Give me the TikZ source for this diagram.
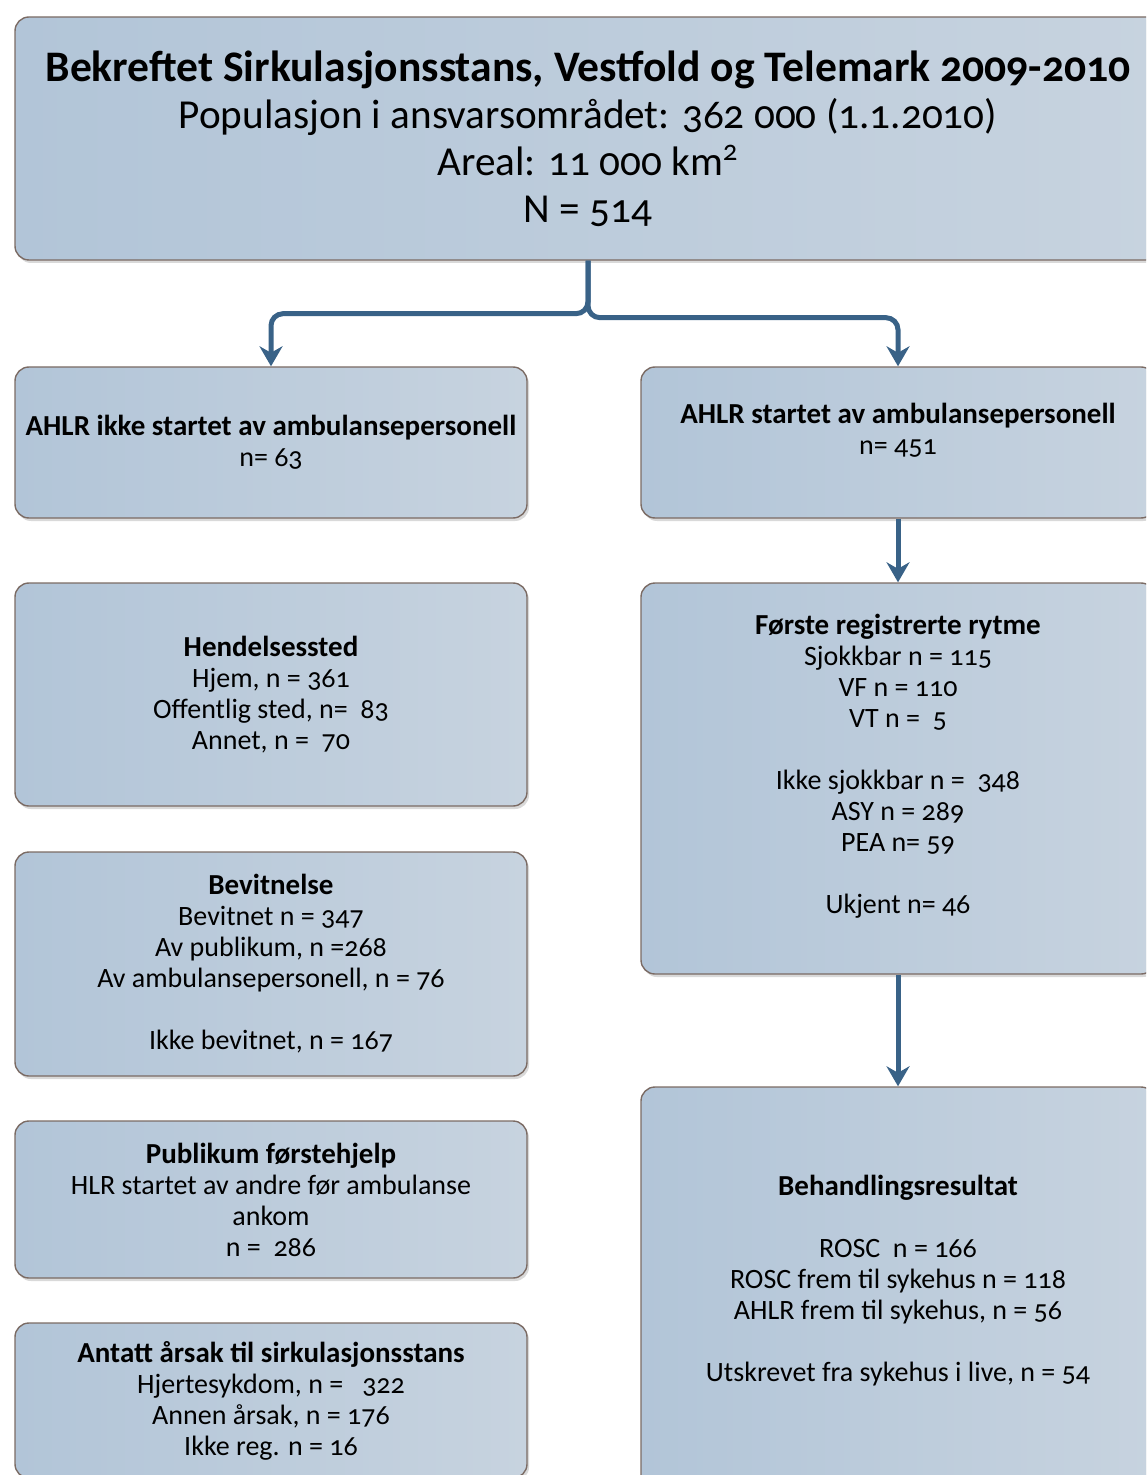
\documentclass[tikz,border=0pt]{standalone}
\usepackage{fontspec}
\setmainfont{Carlito}[Numbers=OldStyle]
\usepackage{tikz}
\usetikzlibrary{arrows.meta, positioning, shadows}

\definecolor{boxleft}{HTML}{B2C5D8}
\definecolor{boxright}{HTML}{C7D3DF}
\definecolor{boxedge}{HTML}{7B6B64}
\definecolor{flowblue}{HTML}{396287}

\newcommand{\boxhead}[1]{{\fontsize{14.5}{15.5}\selectfont\textbf{#1}}}

\tikzset{
  infobox/.style={rectangle, rounded corners=7pt, draw=boxedge, line width=0.7pt,
    left color=boxleft, right color=boxright, align=center, inner sep=0pt,
    drop shadow={opacity=0.3, shadow xshift=1pt, shadow yshift=-1.5pt},
    font=\fontsize{14}{15.5}\selectfont},
  flow/.style={-{Stealth[length=10pt, width=11.5pt]}, draw=flowblue, line width=2.5pt}
}

\begin{document}
\begin{tikzpicture}[>=Latex, x=0.5pt, y=-0.5pt]
    \useasboundingbox (0,0) rectangle (1146,1475);
    \clip (0,0) rectangle (1146,1475);

    % Study population
    \node[infobox, minimum width=573pt, minimum height=121.5pt,
          font=\fontsize{20.6}{23.5}\selectfont] (top) at (588,138.5)
      {{\fontsize{21.8}{23.5}\selectfont\textbf{Bekreftet Sirkulasjonsstans, Vestfold og Telemark 2009-2010}}\\
       Populasjon i ansvarsområdet: 362 000 (1.1.2010)\\
       Areal: 11 000 km\textsuperscript{2}\\
       N = 514};

    % Left column
    \node[infobox, minimum width=256pt, minimum height=75.5pt] (ahlrno) at (271,442.5)
      {\boxhead{AHLR ikke startet av ambulansepersonell}\\ n= 63};
    \node[infobox, minimum width=256pt, minimum height=111.5pt] (sted) at (271,694.5)
      {\boxhead{Hendelsessted}\\ Hjem, n = 361\\ Offentlig sted, n=~~83\\ Annet, n =~~70};
    \node[infobox, minimum width=256pt, minimum height=112pt] (bevitn) at (271,964)
      {\boxhead{Bevitnelse}\\ Bevitnet n = 347\\ Av publikum, n =268\\
       Av ambulansepersonell, n = 76\\[15.5pt] Ikke bevitnet, n = 167};
    \node[infobox, minimum width=256pt, minimum height=78.5pt] (publikum) at (271,1199.5)
      {\boxhead{Publikum førstehjelp}\\ HLR startet av andre før ambulanse\\ ankom\\ n =~~286};
    \node[infobox, minimum width=256pt, minimum height=77.5pt] (aarsak) at (271,1400.5)
      {\boxhead{Antatt årsak til sirkulasjonsstans}\\ Hjertesykdom, n =~~~322\\
       Annen årsak, n = 176\\ Ikke reg. n = 16};

    % Right column
    \node[infobox, minimum width=257pt, minimum height=75.5pt] (ahlryes) at (898,442.5)
      {\boxhead{AHLR startet av ambulansepersonell}\\ n= 451\rule[-14pt]{0pt}{0pt}};
    \node[infobox, minimum width=257pt, minimum height=195.5pt] (rytme) at (898,778.5)
      {\boxhead{Første registrerte rytme}\\ Sjokkbar n = 115\\ VF n = 110\\ VT n =~~5\\[15.5pt]
       Ikke sjokkbar n =~~348\\ ASY n = 289\\ PEA n= 59\\[15.5pt]
       Ukjent n= 46\rule[-15pt]{0pt}{0pt}};
    \node[infobox, minimum width=257pt, minimum height=206.5pt] (resultat) at (898,1293.5)
      {\boxhead{Behandlingsresultat}\\[15.5pt] ROSC~~n = 166\\ ROSC frem til sykehus n = 118\\
       AHLR frem til sykehus, n = 56\\[15.5pt]
       Utskrevet fra sykehus i live, n = 54\rule[-15pt]{0pt}{0pt}};

    % Connectors
    \draw[flow, rounded corners=6pt] (top.south) -- ++(0,53) -| (ahlrno.north);
    \draw[flow, rounded corners=6pt] (top.south) -- ++(0,57) -| (ahlryes.north);
    \draw[flow] (ahlryes.south) -- (rytme.north);
    \draw[flow] (rytme.south) -- (resultat.north);

  \end{tikzpicture}
\end{document}
